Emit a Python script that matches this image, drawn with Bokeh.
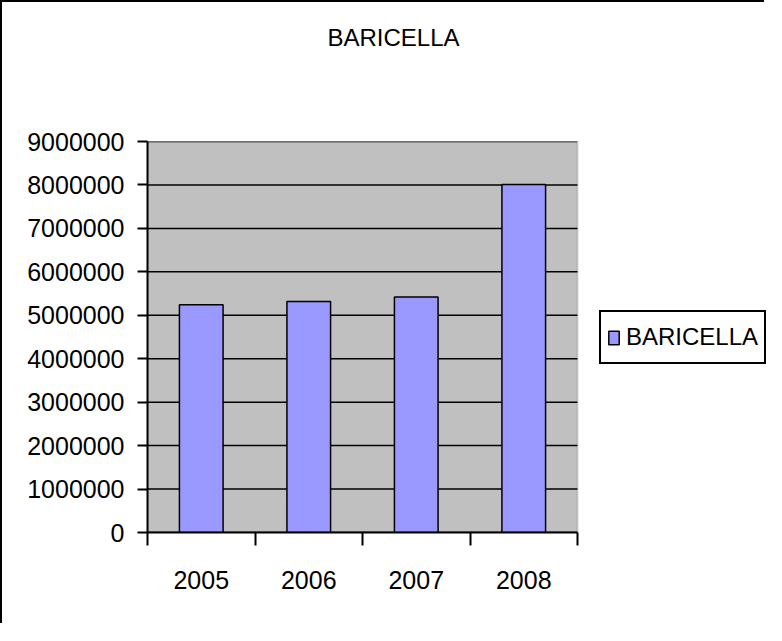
from bokeh.plotting import figure
from bokeh.models import (Range1d, FixedTicker, Legend, LegendItem, Title,
                          NumeralTickFormatter, BoxAnnotation)
from bokeh.embed import file_html
from bokeh.resources import INLINE

# ---- data ----
chart_title = "BARICELLA"
series_name = "BARICELLA"
years = ["2005", "2006", "2007", "2008"]
values = [5240000, 5320000, 5420000, 8010000]
y_ticks = [0, 1000000, 2000000, 3000000, 4000000, 5000000,
           6000000, 7000000, 8000000, 9000000]

FONT = "Liberation Sans"
FS = "25px"
FS_T = "24px"

W, H = 764, 623
LEFT, TOP, BOTTOM = 145, 139, 93
PLOT_W = 430          # width of the grey plot area in pixels
FRAME_W = W - LEFT    # frame extends to the right edge so the legend fits

n = len(years)
xs = [i + 0.5 for i in range(n)]
bounds = list(range(n + 1))

p = figure(width=W, height=H, output_backend="svg", toolbar_location=None,
           x_range=Range1d(0, n * FRAME_W / PLOT_W),
           y_range=Range1d(0, y_ticks[-1]),
           min_border_left=LEFT, min_border_right=0,
           min_border_top=TOP, min_border_bottom=BOTTOM)
p.styles = {"border-left": "2px solid black", "border-top": "2px solid black"}

# title (outermost) + an empty spacer panel between it and the frame
p.title.text = chart_title
p.title.align = "left"
p.title.offset = 180
p.title.standoff = 0
p.title.text_font = FONT
p.title.text_font_size = FS_T
p.title.text_font_style = "normal"
p.title.text_color = "black"
p.add_layout(Title(text=" ", standoff=62, text_font=FONT,
                   text_font_size=FS_T), "above")

p.background_fill_color = "white"
p.border_fill_color = "white"
p.outline_line_color = None

# grey plot area
p.add_layout(BoxAnnotation(left=0, right=n, bottom=0, top=y_ticks[-1],
                           fill_color="#C0C0C0", fill_alpha=1,
                           line_color="#808080", line_width=2,
                           level="underlay"))

# horizontal grid lines limited to the plot area
p.xgrid.visible = False
p.ygrid.visible = False
p.segment(x0=[0] * len(y_ticks), x1=[n] * len(y_ticks), y0=y_ticks, y1=y_ticks,
          line_color="black", line_width=1.5)

r = p.vbar(x=xs, top=values, width=0.406, fill_color="#9999FF",
           line_color="black", line_width=1.5)

# y axis
ya = p.yaxis[0]
ya.ticker = FixedTicker(ticks=y_ticks)
ya.formatter = NumeralTickFormatter(format="0")
ya.axis_line_color = "black"
ya.axis_line_width = 2
ya.major_tick_line_width = 2
ya.major_tick_out = 10
ya.major_tick_in = 0
ya.minor_tick_line_color = None
ya.major_label_standoff = 13
ya.major_label_text_font = FONT
ya.major_label_text_font_size = FS
ya.major_label_text_color = "black"

# x axis: labels at category centres, ticks at category boundaries
xa = p.xaxis[0]
xa.bounds = (0, n)
xa.ticker = FixedTicker(ticks=xs, minor_ticks=bounds)
xa.major_label_overrides = {x: y for x, y in zip(xs, years)}
xa.axis_line_color = "black"
xa.axis_line_width = 2
xa.major_tick_line_color = None
xa.major_tick_out = 0
xa.major_tick_in = 0
xa.minor_tick_line_color = "black"
xa.minor_tick_line_width = 2
xa.minor_tick_out = 13
xa.minor_tick_in = 0
xa.major_label_standoff = 25
xa.major_label_text_font = FONT
xa.major_label_text_font_size = FS
xa.major_label_text_color = "black"

legend = Legend(items=[LegendItem(label=series_name, renderers=[r])],
                location=(452, 168))
legend.border_line_color = "black"
legend.border_line_width = 2
legend.border_line_alpha = 1
legend.background_fill_color = "white"
legend.background_fill_alpha = 1
legend.label_text_font = FONT
legend.label_text_font_size = FS_T
legend.label_text_color = "black"
legend.label_height = 38
legend.glyph_width = 13
legend.glyph_height = 17
legend.label_standoff = 6
legend.padding = 6
legend.margin = 0
legend.spacing = 0
p.add_layout(legend)

open("out.html", "w").write(file_html(p, INLINE))
